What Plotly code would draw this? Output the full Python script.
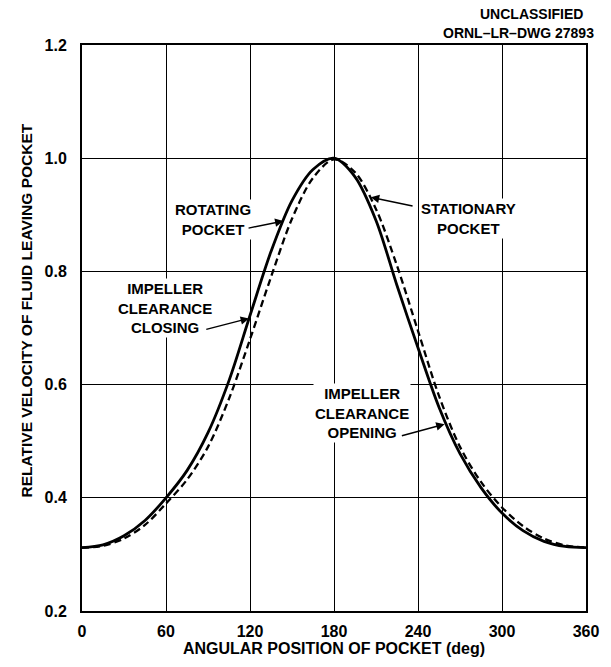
import plotly.graph_objects as go

# Angular position of pocket (deg)
angle = [0, 15, 30, 45, 60, 75, 90, 105, 120, 135, 150, 165, 180,
         195, 210, 225, 240, 255, 270, 285, 300, 315, 330, 345, 360]

# Rotating pocket (solid)
rotating = [0.312, 0.317, 0.333, 0.360, 0.400, 0.448, 0.515, 0.607, 0.722,
            0.835, 0.925, 0.980, 1.000, 0.967, 0.890, 0.775, 0.665, 0.560,
            0.478, 0.418, 0.373, 0.342, 0.323, 0.314, 0.312]

# Stationary pocket (dashed)
stationary = [0.312, 0.315, 0.328, 0.352, 0.390, 0.432, 0.490, 0.575, 0.680,
              0.790, 0.893, 0.965, 0.998, 0.975, 0.910, 0.810, 0.695, 0.580,
              0.490, 0.428, 0.383, 0.350, 0.328, 0.316, 0.312]

x_ticks = [0, 60, 120, 180, 240, 300, 360]
y_ticks = [0.2, 0.4, 0.6, 0.8, 1.0, 1.2]

FONT = "Liberation Sans"

fig = go.Figure()
fig.add_trace(go.Scatter(x=angle, y=rotating, mode="lines",
                         line=dict(color="black", width=2.8, shape="spline", smoothing=0.9),
                         name="Rotating pocket", showlegend=False))
fig.add_trace(go.Scatter(x=angle, y=stationary, mode="lines",
                         line=dict(color="black", width=2.3, dash="7px,4px", shape="spline", smoothing=0.9),
                         name="Stationary pocket", showlegend=False))

labels = [
    ("ROTATING<br>POCKET", 93.3, 0.891),
    ("IMPELLER<br>CLEARANCE<br>CLOSING", 59.6, 0.736),
    ("STATIONARY<br>POCKET", 275.8, 0.894),
    ("IMPELLER<br>CLEARANCE<br>OPENING", 200.0, 0.549),
]
for txt, xx, yy in labels:
    fig.add_annotation(x=xx, y=yy, text=txt, showarrow=False,
                       font=dict(family=FONT, size=15, color="black", weight="bold"),
                       bgcolor="white", align="center")

arrows = [
    (117.9, 0.876, 143.9, 0.889),
    (87.7, 0.697, 119.3, 0.717),
    (237.2, 0.915, 206.3, 0.931),
    (227.4, 0.509, 259.0, 0.530),
]
for ax_, ay_, x_, y_ in arrows:
    fig.add_annotation(x=x_, y=y_, ax=ax_, ay=ay_, axref="x", ayref="y",
                       text="", showarrow=True, arrowhead=2, arrowsize=1.2,
                       arrowwidth=1.4, arrowcolor="black")

fig.add_annotation(xref="paper", yref="paper", x=1.0, y=1.0, yshift=31, xshift=-55,
                   text="UNCLASSIFIED", showarrow=False, xanchor="center", yanchor="middle",
                   font=dict(family=FONT, size=14, color="black", weight="bold"))
fig.add_annotation(xref="paper", yref="paper", x=1.0, y=1.0, yshift=12, xshift=10,
                   text="ORNL–LR–DWG 27893", showarrow=False, xanchor="right", yanchor="middle",
                   font=dict(family=FONT, size=14, color="black", weight="bold"))

# y-axis title (placed as rotated text, slightly above the plot centre as in the original)
fig.add_annotation(xref="paper", yref="paper", x=-0.111, y=0.531,
                   text="RELATIVE VELOCITY OF FLUID LEAVING POCKET", showarrow=False,
                   textangle=-90, xanchor="center", yanchor="middle",
                   font=dict(family=FONT, size=15.5, color="black", weight="bold"))

axis_common = dict(showline=True, linecolor="black", linewidth=2, mirror=True,
                   showgrid=True, gridcolor="black", gridwidth=1.2, zeroline=False,
                   ticks="", tickfont=dict(family=FONT, size=16, color="black", weight="bold"))

fig.update_xaxes(range=[0, 360], tickvals=x_ticks, ticktext=[str(v) for v in x_ticks],
                 title=dict(text="ANGULAR POSITION OF POCKET (deg)", standoff=4,
                            font=dict(family=FONT, size=16, color="black", weight="bold")),
                 ticklabelstandoff=5, **axis_common)
fig.update_yaxes(range=[0.2, 1.2], tickvals=y_ticks, ticktext=[f"{v:.1f}" for v in y_ticks],
                 ticklabelstandoff=10, **axis_common)

fig.update_layout(width=611, height=667, margin=dict(l=82, r=16, t=45, b=53),
                  plot_bgcolor="white", paper_bgcolor="white")

fig.write_html("out.html")
